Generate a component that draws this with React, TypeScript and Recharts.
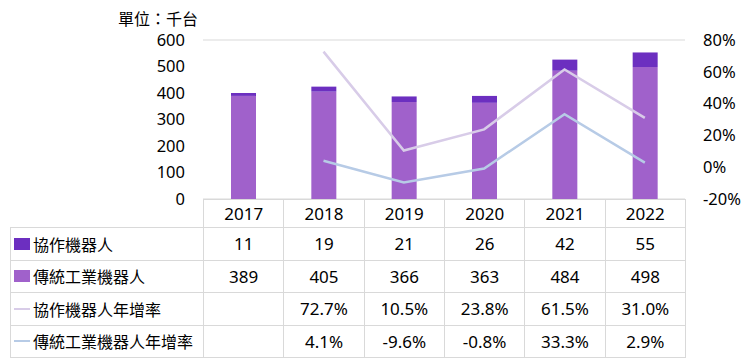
import React from 'react';
import { ComposedChart, Bar, Line, XAxis, YAxis, CartesianGrid } from 'recharts';

const years = ['2017', '2018', '2019', '2020', '2021', '2022'];
const cobot = [11, 19, 21, 26, 42, 55];
const traditional = [389, 405, 366, 363, 484, 498];
const cobotGrowth = [null, 72.7, 10.5, 23.8, 61.5, 31.0];
const tradGrowth = [null, 4.1, -9.6, -0.8, 33.3, 2.9];
const leftTicks = [0, 100, 200, 300, 400, 500, 600];
const rightTicks = [-20, 0, 20, 40, 60, 80];

const COBOT_COLOR = '#6c2fc0';
const TRAD_COLOR = '#a061cb';
const COBOT_LINE = '#d8cce8';
const TRAD_LINE = '#b7cbe6';
const BORDER = '#d9d9d9';
const FONT = '"Noto Sans", "Noto Sans CJK TC", sans-serif';

const chartData = years.map((year, i) => ({
  year,
  cobot: cobot[i],
  traditional: traditional[i],
  cobotGrowth: cobotGrowth[i],
  tradGrowth: tradGrowth[i],
}));

const fmtPct = (v: number | null) => (v == null ? '' : `${v.toFixed(1)}%`);

const rows = [
  { label: '協作機器人', marker: 'box', color: COBOT_COLOR, values: cobot.map(String) },
  { label: '傳統工業機器人', marker: 'box', color: TRAD_COLOR, values: traditional.map(String) },
  { label: '協作機器人年增率', marker: 'line', color: COBOT_LINE, values: cobotGrowth.map(fmtPct) },
  { label: '傳統工業機器人年增率', marker: 'line', color: TRAD_LINE, values: tradGrowth.map(fmtPct) },
];

const PLOT_LEFT = 203;
const PLOT_RIGHT = 685;
const LABEL_LEFT = 10;
const HEADER_TOP = 199;
const HEADER_H = 28;
const ROW_H = 32.5;

function DataTable() {
  const colW = (PLOT_RIGHT - PLOT_LEFT) / years.length;
  const cell: React.CSSProperties = {
    position: 'absolute',
    display: 'flex',
    alignItems: 'center',
    justifyContent: 'center',
    fontSize: 17,
    color: '#000',
    boxSizing: 'border-box',
  };
  return (
    <>
      {years.map((y, i) => (
        <div
          key={y}
          style={{
            ...cell,
            left: PLOT_LEFT + i * colW,
            top: HEADER_TOP,
            width: colW + 1,
            height: HEADER_H + 1,
            border: `1px solid ${BORDER}`,
          }}
        >
          {y}
        </div>
      ))}
      {rows.map((row, r) => {
        const top = HEADER_TOP + HEADER_H + r * ROW_H;
        return (
          <React.Fragment key={row.label}>
            <div
              style={{
                ...cell,
                fontSize: 16,
                justifyContent: 'flex-start',
                left: LABEL_LEFT,
                top,
                width: PLOT_LEFT - LABEL_LEFT + 1,
                height: ROW_H + 1,
                border: `1px solid ${BORDER}`,
              }}
            >
              {row.marker === 'box' ? (
                <span style={{ display: 'inline-block', width: 16, height: 12, marginLeft: 3, marginRight: 3, background: row.color }} />
              ) : (
                <span style={{ display: 'inline-block', width: 16, height: 2, marginLeft: 3, marginRight: 3, background: row.color }} />
              )}
              {row.label}
            </div>
            {row.values.map((v, i) => (
              <div
                key={i}
                style={{
                  ...cell,
                  left: PLOT_LEFT + i * colW,
                  top,
                  width: colW + 1,
                  height: ROW_H + 1,
                  border: `1px solid ${BORDER}`,
                }}
              >
                {v}
              </div>
            ))}
          </React.Fragment>
        );
      })}
    </>
  );
}

export default function App() {
  const tick = { fill: '#000', fontSize: 16.5, fontFamily: FONT };
  return (
    <div style={{ position: 'absolute', left: 0, top: 0, width: 749, height: 360, background: '#fff', fontFamily: FONT }}>
      <div style={{ position: 'absolute', left: 118, top: 6, fontSize: 16, color: '#000', fontFamily: FONT }}>單位：千台</div>
      <ComposedChart
        width={749}
        height={215}
        data={chartData}
        margin={{ top: 40, right: 0, bottom: 16, left: 0 }}
        barCategoryGap="69%"
        style={{ position: 'absolute', left: 0, top: 0 }}
      >
        <CartesianGrid vertical={false} stroke={BORDER} />
        <XAxis dataKey="year" hide />
        <YAxis
          yAxisId="left"
          width={PLOT_LEFT}
          domain={[0, 600]}
          ticks={leftTicks}
          axisLine={false}
          tickLine={false}
          tickSize={0}
          tickMargin={18}
          tick={tick}
          interval={0}
        />
        <YAxis
          yAxisId="right"
          orientation="right"
          width={749 - PLOT_RIGHT}
          domain={[-20, 80]}
          ticks={rightTicks}
          axisLine={false}
          tickLine={false}
          tickSize={0}
          tickMargin={18}
          tick={{ ...tick, textAnchor: 'start' }}
          tickFormatter={(v: number) => `${v}%`}
          interval={0}
        />
        <Bar yAxisId="left" dataKey="traditional" stackId="a" fill={TRAD_COLOR} barSize={25} isAnimationActive={false} />
        <Bar yAxisId="left" dataKey="cobot" stackId="a" fill={COBOT_COLOR} barSize={25} isAnimationActive={false} />
        <Line yAxisId="right" dataKey="cobotGrowth" stroke={COBOT_LINE} strokeWidth={2.5} dot={false} type="linear" isAnimationActive={false} />
        <Line yAxisId="right" dataKey="tradGrowth" stroke={TRAD_LINE} strokeWidth={2.5} dot={false} type="linear" isAnimationActive={false} />
      </ComposedChart>
      <DataTable />
    </div>
  );
}
